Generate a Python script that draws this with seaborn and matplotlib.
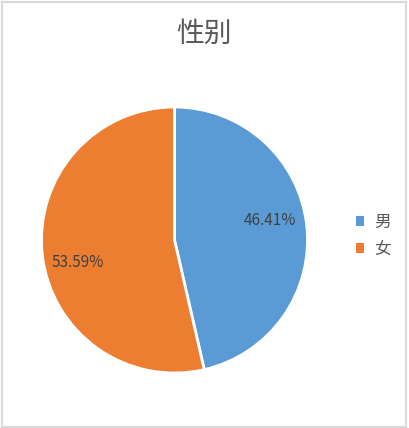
import matplotlib
matplotlib.use("Agg")
import matplotlib.pyplot as plt
import matplotlib.patches as patches
import seaborn as sns

# 数据
CATEGORIES = ["男", "女"]
VALUES = [46.41, 53.59]
COLORS = ["#5B9BD5", "#ED7D31"]
TITLE = "性别"

sns.set_theme(style="white")
plt.rcParams["font.family"] = ["Noto Sans CJK SC", "DejaVu Sans"]

W, H = 409, 428
fig = plt.figure(figsize=(W / 100, H / 100), dpi=100)
fig.patch.set_facecolor("white")

# 外框
fig.add_artist(patches.Rectangle(
    (1.5 / W, 1.5 / H), (406 - 1.5) / W, (426 - 1.5) / H,
    transform=fig.transFigure, fill=False, edgecolor="#D9D9D9", linewidth=1.6))

# 饼图区域：圆心 (174.5, 240)，半径 133 px
cx, cy, r = 174.5, 240, 133
ax = fig.add_axes([(cx - r) / W, (H - cy - r) / H, 2 * r / W, 2 * r / H])

wedges, texts, autotexts = ax.pie(
    VALUES,
    colors=COLORS,
    startangle=90,
    counterclock=False,
    autopct="%.2f%%",
    pctdistance=0.73,
    wedgeprops={"edgecolor": "white", "linewidth": 2},
    textprops={"fontsize": 11, "color": "#404040"},
)
ax.set_xlim(-1, 1)
ax.set_ylim(-1, 1)
ax.set_aspect("equal")
ax.axis("off")

# 标签位置微调（参考图中略偏）
autotexts[0].set_position((0.72, 0.15))
autotexts[1].set_position((-0.73, -0.17))

fig.text(204 / W, 1 - 34 / H, TITLE, ha="center", va="center",
         fontsize=20, color="#595959")

fig.legend(
    wedges, CATEGORIES,
    loc="center left",
    bbox_to_anchor=(341 / W, 1 - 236 / H),
    frameon=False,
    fontsize=12,
    handlelength=0.5,
    handleheight=0.5,
    handletextpad=0.6,
    labelspacing=0.6,
    labelcolor="#595959",
)
for h in fig.legends[0].legend_handles:
    h.set_edgecolor("none")

fig.savefig("out.png", dpi=100, facecolor="white")
